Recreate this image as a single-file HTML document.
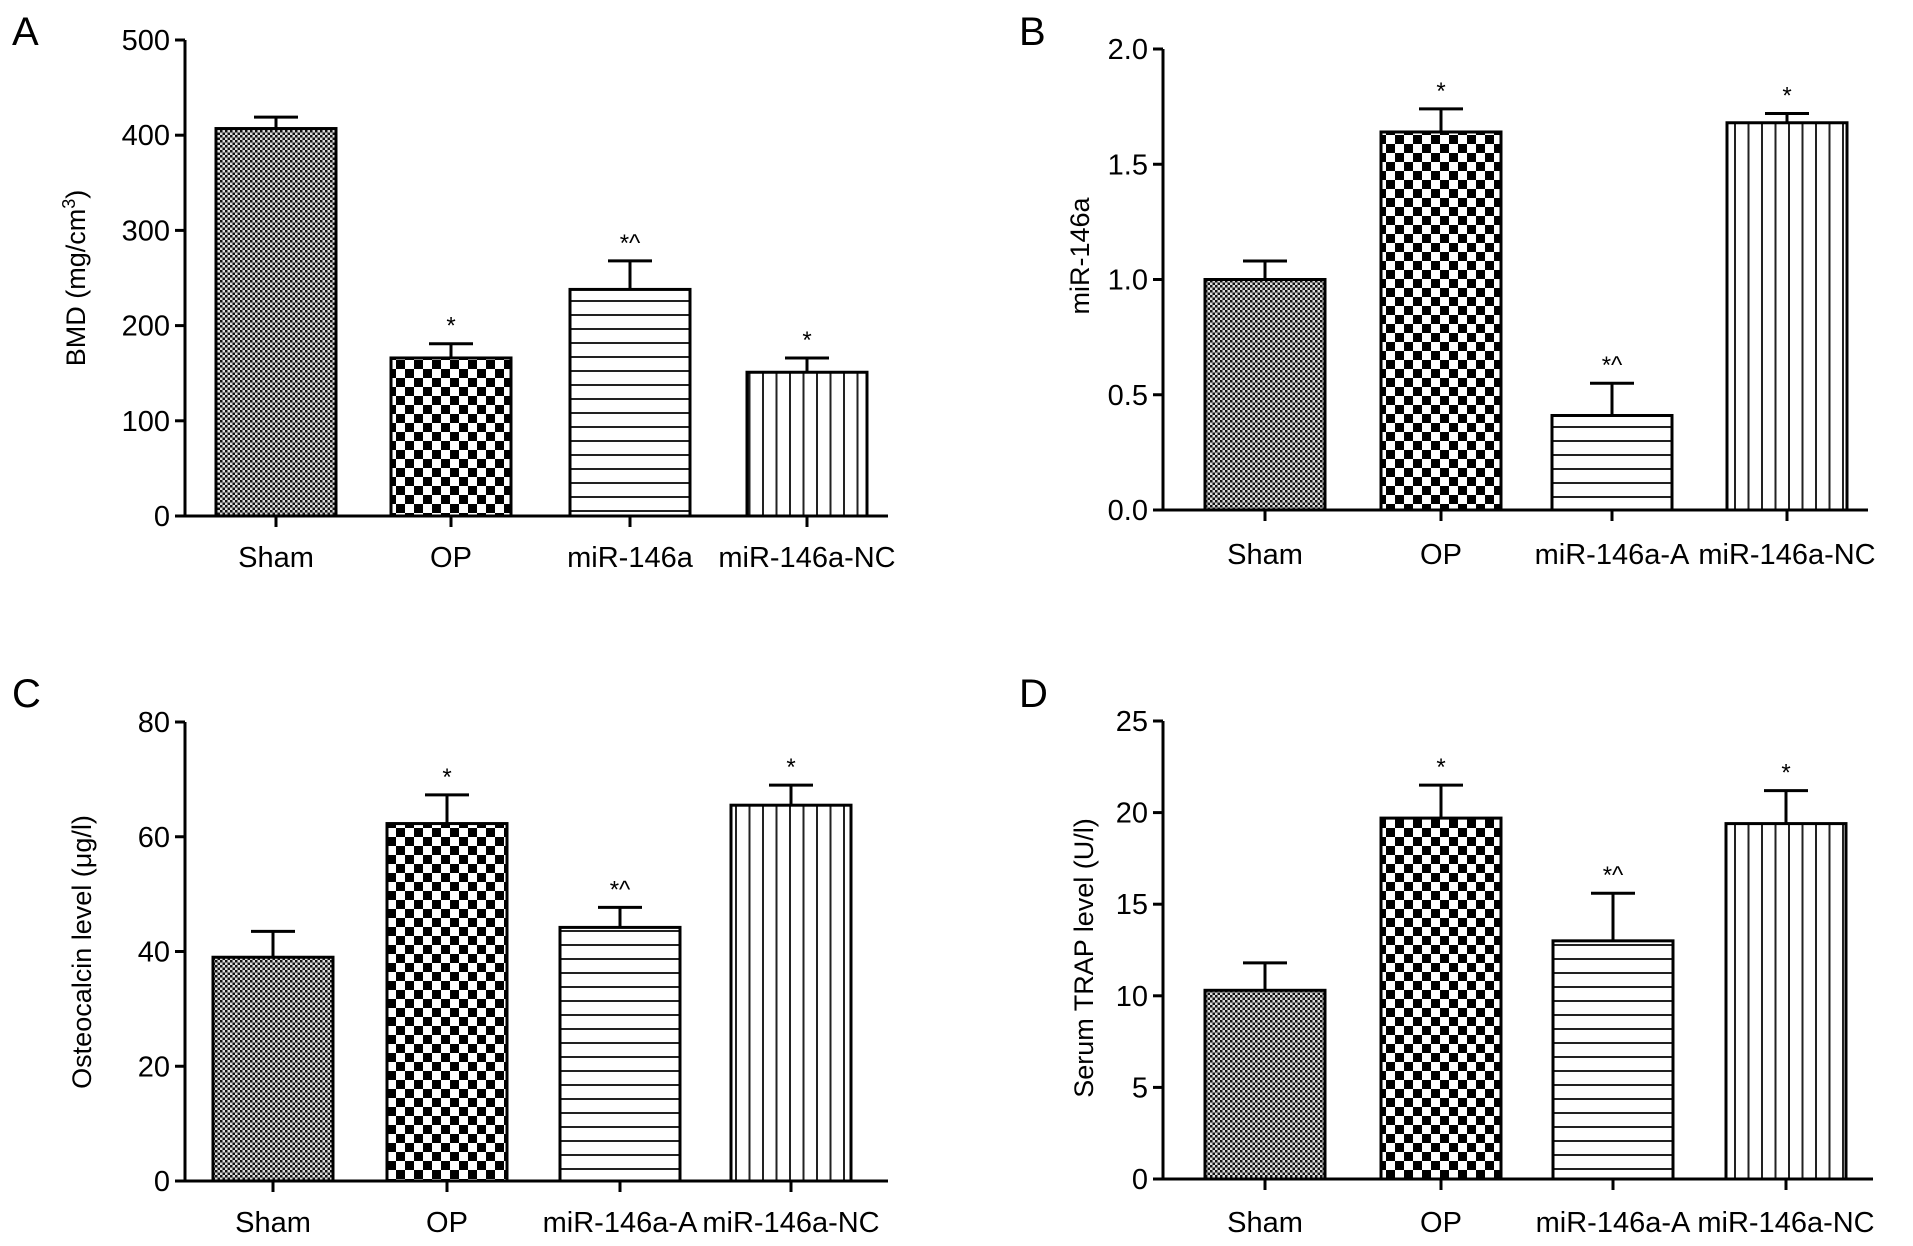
<!DOCTYPE html>
<html><head><meta charset="utf-8"><style>
html,body{margin:0;padding:0;background:#fff;}
svg{display:block;font-family:"Liberation Sans",Arial,sans-serif;}
</style></head><body>
<svg id="fig" width="1913" height="1246" viewBox="0 0 1913 1246" xmlns="http://www.w3.org/2000/svg">
<defs>
<pattern id="pSham" width="5" height="5" patternUnits="userSpaceOnUse"><rect width="5" height="5" fill="#ddd"/><rect width="2.5" height="2.5" fill="#111"/><rect x="2.5" y="2.5" width="2.5" height="2.5" fill="#111"/></pattern>
<pattern id="pOP" width="18" height="18" patternUnits="userSpaceOnUse"><rect width="18" height="18" fill="#fff"/><rect width="9" height="9" fill="#000"/><rect x="9" y="9" width="9" height="9" fill="#000"/></pattern>
<pattern id="pH" width="14" height="14" patternUnits="userSpaceOnUse"><rect width="14" height="14" fill="#fff"/><rect y="6" width="14" height="2" fill="#222"/></pattern>
<pattern id="pV" width="13.5" height="14" patternUnits="userSpaceOnUse"><rect width="13.5" height="14" fill="#fff"/><rect x="6" width="2" height="14" fill="#222"/></pattern>
</defs>
</svg>
<script>
// Panel A
const catsA = ["Sham","OP","miR-146a","miR-146a-NC"];
const valsA = [407,166,238,151];
const errA = [12,15,30,15];
const annA = ["","*","*^","*"];
const ticksA = [0,100,200,300,400,500];
// Panel B
const catsB = ["Sham","OP","miR-146a-A","miR-146a-NC"];
const valsB = [1.0,1.64,0.41,1.68];
const errB = [0.08,0.1,0.14,0.04];
const annB = ["","*","*^","*"];
const ticksB = ["0.0","0.5","1.0","1.5","2.0"];
// Panel C
const catsC = ["Sham","OP","miR-146a-A","miR-146a-NC"];
const valsC = [39,62.3,44.2,65.5];
const errC = [4.5,5,3.5,3.5];
const annC = ["","*","*^","*"];
const ticksC = [0,20,40,60,80];
// Panel D
const catsD = ["Sham","OP","miR-146a-A","miR-146a-NC"];
const valsD = [10.3,19.7,13,19.4];
const errD = [1.5,1.8,2.6,1.8];
const annD = ["","*","*^","*"];
const ticksD = [0,5,10,15,20,25];

const svg = document.getElementById('fig');
const NS = "http://www.w3.org/2000/svg";
function mk(tag, attrs, parent){
  const e = document.createElementNS(NS, tag);
  for (const k in attrs) e.setAttribute(k, attrs[k]);
  (parent||svg).appendChild(e);
  return e;
}
const fills = ["url(#pSham)","url(#pOP)","url(#pH)","url(#pV)"];

function panel(cfg){
  const g = mk('g',{});
  
  
  const ymax = parseFloat(cfg.ticks[cfg.ticks.length-1]);
  const yScale = v => cfg.y0 - (v/ymax)*(cfg.y0-cfg.yTop);
  const xScale = i => cfg.centers[i];
  const bw = 120;
  cfg.vals.forEach((v,i)=>{
    const cx = xScale(i), yt = yScale(v), ye = yScale(v+cfg.err[i]);
    const r = mk('rect',{x:cx-bw/2,y:yt,width:bw,height:cfg.y0-yt,fill:fills[i],stroke:'#000','stroke-width':3},g);
    
    
    const eb = mk('path',{d:`M${cx} ${yt} V${ye} M${cx-22} ${ye} H${cx+22}`,stroke:'#000','stroke-width':3,fill:'none'},g);
    
    
    if (cfg.ann[i]) {
      const t = mk('text',{x:cx,y:ye-10,'text-anchor':'middle','font-size':24},g);
      t.textContent = cfg.ann[i];
      
      
    }
    const tk = mk('line',{x1:cx,x2:cx,y1:cfg.y0,y2:cfg.y0+11,stroke:'#000','stroke-width':3},g);
    
    
    const lab = mk('text',{x:cx,y:cfg.labY,'text-anchor':'middle','font-size':29},g);
    lab.textContent = cfg.cats[i];
    
    
  });
  const ax = mk('path',{d:`M${cfg.ax} ${cfg.yTop} V${cfg.y0} H${cfg.axEnd}`,stroke:'#000','stroke-width':3,fill:'none'},g);
  
  
  cfg.ticks.forEach(t=>{
    const y = yScale(parseFloat(t));
    const l = mk('line',{x1:cfg.ax-10,x2:cfg.ax,y1:y,y2:y,stroke:'#000','stroke-width':3},g);
    
    
    const tx = mk('text',{x:cfg.ax-15,y:y+10,'text-anchor':'end','font-size':29},g);
    tx.textContent = t;
    
    
  });
  const yt = mk('text',{x:0,y:0,'text-anchor':'middle','font-size':27,transform:`translate(${cfg.titleX},${cfg.titleY}) rotate(-90)`},g);
  yt.innerHTML = cfg.title;
  
  
  const L = mk('text',{x:cfg.letterX,y:cfg.letterY,'font-size':40},g);
  L.textContent = cfg.letter;
  
  
}

panel({id:'panel-a',cats:catsA,vals:valsA,err:errA,ann:annA,ticks:ticksA,y0:516,yTop:40,ax:185,axEnd:888,
  centers:[276,451,630,807],labY:567,title:'BMD (mg/cm<tspan dy="-10" font-size="18">3</tspan><tspan dy="10">)</tspan>',titleX:85,titleY:278,letter:'A',letterX:12,letterY:45});
panel({id:'panel-b',cats:catsB,vals:valsB,err:errB,ann:annB,ticks:ticksB,y0:510,yTop:49,ax:1163,axEnd:1868,
  centers:[1265,1441,1612,1787],labY:564,title:'miR-146a',titleX:1089,titleY:256,letter:'B',letterX:1019,letterY:45});
panel({id:'panel-c',cats:catsC,vals:valsC,err:errC,ann:annC,ticks:ticksC,y0:1181,yTop:722,ax:185,axEnd:888,
  centers:[273,447,620,791],labY:1232,title:'Osteocalcin level (μg/l)',titleX:91,titleY:952,letter:'C',letterX:12,letterY:707});
panel({id:'panel-d',cats:catsD,vals:valsD,err:errD,ann:annD,ticks:ticksD,y0:1179,yTop:721,ax:1163,axEnd:1873,
  centers:[1265,1441,1613,1786],labY:1232,title:'Serum TRAP level (U/l)',titleX:1093,titleY:958,letter:'D',letterX:1019,letterY:707});
</script>
</body></html>
